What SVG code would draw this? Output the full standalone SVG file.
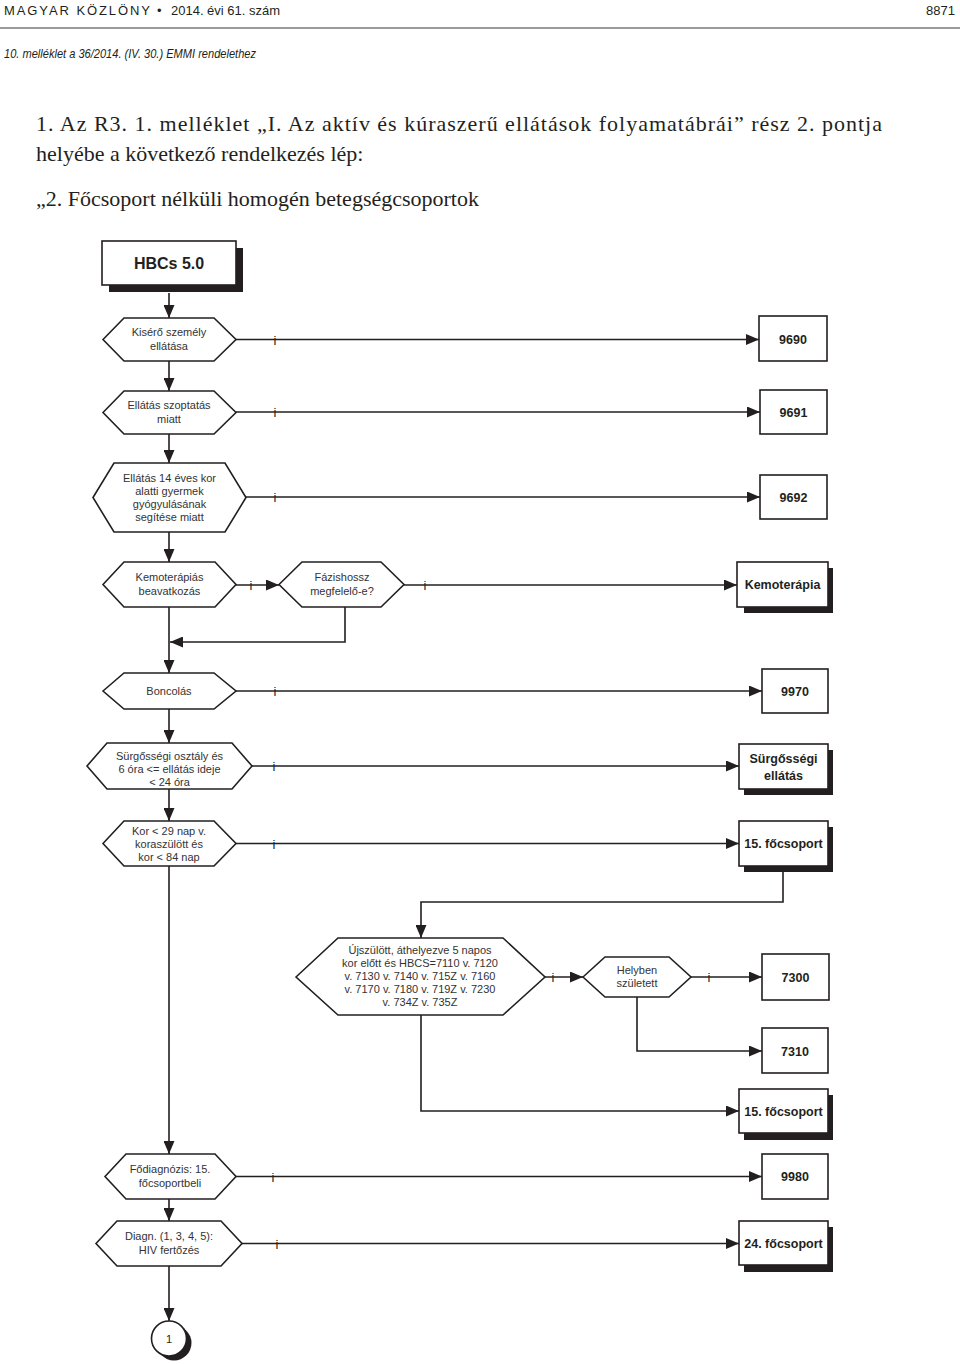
<svg xmlns="http://www.w3.org/2000/svg" width="960" height="1364" viewBox="0 0 960 1364">
<defs>
<marker id="ah" markerUnits="userSpaceOnUse" markerWidth="13" markerHeight="11" refX="13" refY="5.5" orient="auto">
<path d="M0,0 L13,5.5 L0,11 z" fill="#231f20"/>
</marker>
<style>
.bg{fill:#fff}
.hex{fill:#fff;stroke:#231f20;stroke-width:1.6}
.box{fill:#fff;stroke:#231f20;stroke-width:1.6}
.sh{fill:#231f20}
.ht{font-family:"Liberation Sans",Arial,sans-serif;font-size:11px;fill:#333;text-anchor:middle}
.bt{font-family:"Liberation Sans",Arial,sans-serif;font-size:12.5px;font-weight:bold;fill:#231f20;text-anchor:middle}
.ln{fill:none;stroke:#231f20;stroke-width:1.6}
.ar{fill:none;stroke:#231f20;stroke-width:1.6;marker-end:url(#ah)}
.i{font-family:"Liberation Sans",Arial,sans-serif;font-size:13px;fill:#231f20;text-anchor:middle}
.body{font-family:"Liberation Serif","Times New Roman",serif;font-size:22px;fill:#231f20}
.hd{font-family:"Liberation Sans",Arial,sans-serif;font-size:13px;fill:#231f20}
</style>
</defs>
<rect class="bg" x="0" y="0" width="960" height="1364"/>
<g id="header">
<text class="hd" x="4" y="15" textLength="146" lengthAdjust="spacing">MAGYAR KÖZLÖNY</text>
<text class="hd" x="157" y="15">•</text>
<text class="hd" x="171" y="15" textLength="109" lengthAdjust="spacingAndGlyphs">2014. évi 61. szám</text>
<text class="hd" x="955" y="15" font-size="14" text-anchor="end">8871</text>
<line x1="0" y1="28" x2="960" y2="28" stroke="#9a9a9a" stroke-width="2"/>
<text class="hd" x="4" y="58" font-size="14" font-style="italic" textLength="252" lengthAdjust="spacingAndGlyphs">10. melléklet a 36/2014. (IV. 30.) EMMI rendelethez</text>
<text class="body" x="36" y="131" textLength="846" lengthAdjust="spacing">1. Az R3. 1. melléklet „I. Az aktív és kúraszerű ellátások folyamatábrái” rész 2. pontja</text>
<text class="body" x="36" y="161">helyébe a következő rendelkezés lép:</text>
<text class="body" x="36" y="206">„2. Főcsoport nélküli homogén betegségcsoportok</text>
</g>
<g id="connectors">
<path class="ar" d="M169,293 V318"/>
<path class="ar" d="M236,339.5 H759"/>
<path class="ar" d="M169,361 V391"/>
<path class="ar" d="M236,412 H760"/>
<path class="ar" d="M169,434 V463"/>
<path class="ar" d="M246,497 H760"/>
<path class="ar" d="M169,532 V562"/>
<path class="ar" d="M236,585 H279"/>
<path class="ar" d="M404,585 H737"/>
<path class="ar" d="M345,607 V642 H170"/>
<path class="ar" d="M169,607 V673"/>
<path class="ar" d="M236,691 H762"/>
<path class="ar" d="M169,709 V743"/>
<path class="ar" d="M252,766 H739"/>
<path class="ar" d="M169,789 V821"/>
<path class="ar" d="M236,843.5 H739"/>
<path class="ar" d="M169,866 V1154"/>
<path class="ar" d="M783,871 V902 H421 V938"/>
<path class="ar" d="M545,977 H583"/>
<path class="ar" d="M691,977 H762"/>
<path class="ar" d="M637,997 V1051 H762"/>
<path class="ar" d="M421,1015 V1111 H739"/>
<path class="ar" d="M236,1176.5 H762"/>
<path class="ar" d="M169,1199 V1221"/>
<path class="ar" d="M242,1243.5 H739"/>
<path class="ar" d="M169,1266 V1321"/>
<text class="i" x="275" y="345">i</text>
<text class="i" x="275" y="417">i</text>
<text class="i" x="275" y="502">i</text>
<text class="i" x="251" y="590">i</text>
<text class="i" x="425" y="590">i</text>
<text class="i" x="275" y="696">i</text>
<text class="i" x="274" y="771">i</text>
<text class="i" x="274" y="849">i</text>
<text class="i" x="553" y="982">i</text>
<text class="i" x="709" y="982">i</text>
<text class="i" x="273" y="1182">i</text>
<text class="i" x="277" y="1249">i</text>
</g>
<g id="hbcs">
<rect class="sh" x="109" y="248" width="134" height="44"/>
<rect class="box" x="102" y="241" width="134" height="44"/>
<text class="bt" x="169" y="269" style="font-size:16px">HBCs 5.0</text>
</g>
<g id="n-kisero">
<polygon class="hex" points="103,339.5 124,318 214,318 236,339.5 214,361 124,361"/>
<text class="ht" x="169" y="336">Kisérő személy</text>
<text class="ht" x="169" y="350">ellátása</text>
</g>
<g id="b-9690">
<rect class="box" x="759" y="316" width="68" height="45"/>
<text class="bt" x="793" y="344">9690</text>
</g>
<g id="n-szoptatas">
<polygon class="hex" points="103,412.5 124,391 214,391 236,412.5 214,434 124,434"/>
<text class="ht" x="169" y="409">Ellátás szoptatás</text>
<text class="ht" x="169" y="423">miatt</text>
</g>
<g id="b-9691">
<rect class="box" x="760" y="390" width="67" height="44"/>
<text class="bt" x="793.5" y="417">9691</text>
</g>
<g id="n-14eves">
<polygon class="hex" points="93,497.5 114,463 225,463 246,497.5 225,532 114,532"/>
<text class="ht" x="169.5" y="482">Ellátás 14 éves kor</text>
<text class="ht" x="169.5" y="495">alatti gyermek</text>
<text class="ht" x="169.5" y="508">gyógyulásának</text>
<text class="ht" x="169.5" y="521">segítése miatt</text>
</g>
<g id="b-9692">
<rect class="box" x="760" y="475" width="67" height="44"/>
<text class="bt" x="793.5" y="502">9692</text>
</g>
<g id="n-kemobeav">
<polygon class="hex" points="103,584.5 124,562 215,562 236,584.5 215,607 124,607"/>
<text class="ht" x="169.5" y="581">Kemoterápiás</text>
<text class="ht" x="169.5" y="595">beavatkozás</text>
</g>
<g id="n-fazis">
<polygon class="hex" points="279,584.5 302,562 381,562 404,584.5 381,607 302,607"/>
<text class="ht" x="342" y="581">Fázishossz</text>
<text class="ht" x="342" y="595">megfelelő-e?</text>
</g>
<g id="b-kemo">
<rect class="sh" x="744" y="568" width="89" height="45"/>
<rect class="box" x="737" y="562" width="91" height="45"/>
<text class="bt" x="782.5" y="589">Kemoterápia</text>
</g>
<g id="n-boncolas">
<polygon class="hex" points="103,691 124,673 214,673 236,691 214,709 124,709"/>
<text class="ht" x="169" y="695">Boncolás</text>
</g>
<g id="b-9970">
<rect class="box" x="762" y="669" width="66" height="44"/>
<text class="bt" x="795" y="696">9970</text>
</g>
<g id="n-surgos">
<polygon class="hex" points="87,766 107,743 232,743 252,766 232,789 107,789"/>
<text class="ht" x="169.5" y="760">Sürgősségi osztály és</text>
<text class="ht" x="169.5" y="773">6 óra &lt;= ellátás ideje</text>
<text class="ht" x="169.5" y="786">&lt; 24 óra</text>
</g>
<g id="b-surgos">
<rect class="sh" x="744" y="750" width="89" height="45"/>
<rect class="box" x="739" y="744" width="89" height="45"/>
<text class="bt" x="783.5" y="763">Sürgősségi</text>
<text class="bt" x="783.5" y="780">ellátás</text>
</g>
<g id="n-kor">
<polygon class="hex" points="103,843.5 124,821 214,821 236,843.5 214,866 124,866"/>
<text class="ht" x="169" y="835">Kor &lt; 29 nap v.</text>
<text class="ht" x="169" y="848">koraszülött és</text>
<text class="ht" x="169" y="861">kor &lt; 84 nap</text>
</g>
<g id="b-15a">
<rect class="sh" x="744" y="827" width="89" height="45"/>
<rect class="box" x="739" y="821" width="89" height="45"/>
<text class="bt" x="783.5" y="848">15. főcsoport</text>
</g>
<g id="n-ujszulott">
<polygon class="hex" points="296,977 338,938 503,938 545,977 503,1015 338,1015"/>
<text class="ht" x="420" y="954">Újszülött, áthelyezve 5 napos</text>
<text class="ht" x="420" y="967">kor előtt és HBCS=7110 v. 7120</text>
<text class="ht" x="420" y="980">v. 7130 v. 7140 v. 715Z v. 7160</text>
<text class="ht" x="420" y="993">v. 7170 v. 7180 v. 719Z v. 7230</text>
<text class="ht" x="420" y="1006">v. 734Z v. 735Z</text>
</g>
<g id="n-helyben">
<polygon class="hex" points="583,977 605,957 669,957 691,977 669,997 605,997"/>
<text class="ht" x="637" y="974">Helyben</text>
<text class="ht" x="637" y="987">született</text>
</g>
<g id="b-7300">
<rect class="box" x="762" y="954" width="67" height="46"/>
<text class="bt" x="795.5" y="982">7300</text>
</g>
<g id="b-7310">
<rect class="box" x="762" y="1028" width="66" height="45"/>
<text class="bt" x="795" y="1056">7310</text>
</g>
<g id="b-15b">
<rect class="sh" x="744" y="1095" width="89" height="45"/>
<rect class="box" x="739" y="1089" width="89" height="44"/>
<text class="bt" x="783.5" y="1116">15. főcsoport</text>
</g>
<g id="n-fodiag">
<polygon class="hex" points="105,1176.5 126,1154 215,1154 236,1176.5 215,1199 126,1199"/>
<text class="ht" x="170" y="1173">Fődiagnózis: 15.</text>
<text class="ht" x="170" y="1187">főcsoportbeli</text>
</g>
<g id="b-9980">
<rect class="box" x="762" y="1154" width="66" height="45"/>
<text class="bt" x="795" y="1181">9980</text>
</g>
<g id="n-hiv">
<polygon class="hex" points="96,1243.5 117,1221 221,1221 242,1243.5 221,1266 117,1266"/>
<text class="ht" x="169" y="1240">Diagn. (1, 3, 4, 5):</text>
<text class="ht" x="169" y="1254">HIV fertőzés</text>
</g>
<g id="b-24">
<rect class="sh" x="744" y="1227" width="89" height="45"/>
<rect class="box" x="739" y="1221" width="89" height="44"/>
<text class="bt" x="783.5" y="1248">24. főcsoport</text>
</g>
<g id="c-1">
<circle cx="174" cy="1343" r="17.5" fill="#231f20"/>
<circle cx="169" cy="1338.5" r="17.5" fill="#fff" stroke="#231f20" stroke-width="1.6"/>
<text class="ht" x="169" y="1342.5" style="fill:#231f20">1</text>
</g>
</svg>
